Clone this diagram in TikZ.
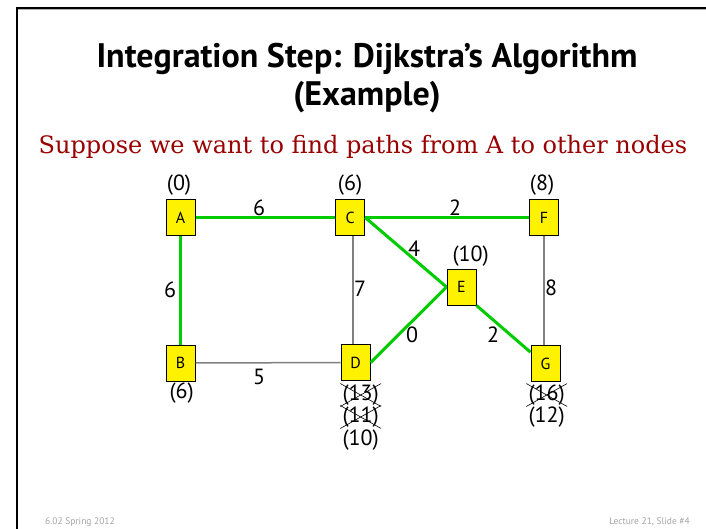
\documentclass[tikz,border=0pt]{standalone}
\usepackage{fontspec}
\setmainfont{PT Sans}
\newfontfamily\subfont{DejaVu Serif}
\usetikzlibrary{calc}
\definecolor{edgegreen}{RGB}{0,204,0}
\definecolor{edgegray}{RGB}{128,128,128}
\definecolor{darkred}{RGB}{153,0,0}
\definecolor{footgray}{RGB}{165,165,165}
\begin{document}
\begin{tikzpicture}[x=1pt,y=-1pt,
 vbox/.style={draw=black, line width=1pt, fill=yellow, minimum width=29pt, minimum height=36pt, inner sep=0pt, font=\fontsize{16}{16}\selectfont},
 dist/.style={font=\fontsize{22}{22}\selectfont, inner sep=0pt},
 wt/.style={font=\fontsize{22}{22}\selectfont, inner sep=0pt},
 tree/.style={draw=edgegreen, line width=3pt},
 plain/.style={draw=edgegray, line width=1.5pt},
 strike/.style={draw=black, line width=0.6pt},
 foot/.style={font=\fontsize{9.5}{10}\selectfont, text=footgray, inner sep=0pt}]
\useasboundingbox (0,0) rectangle (706,528);
\fill[white] (0,0) rectangle (706,528);
% frame
\draw[black, line width=2pt] (17,529) -- (17,8) -- (707,8);
\draw[gray!60, line width=0.8pt] (18,9.8) -- (707,9.8);
% title
\node[anchor=base, inner sep=0pt, font=\fontsize{34}{34}\selectfont\bfseries] (title1) at (367,67) {Integration Step: Dijkstra’s Algorithm};
\node[anchor=base, inner sep=0pt, font=\fontsize{34}{34}\selectfont\bfseries] (title2) at (367,105) {(Example)};
\node[anchor=base, inner sep=0pt, font=\subfont\fontsize{24}{24}\selectfont, text=darkred] (sub) at (363,153) {Suppose we want to find paths from A to other nodes};
% vertices
\node[vbox] (A) at (180.5,217.5) {A};
\node[vbox] (C) at (350.2,217.5) {C};
\node[vbox] (F) at (544,217.5) {F};
\node[vbox] (E) at (461.5,287) {E};
\node[vbox] (B) at (180.5,363) {B};
\node[vbox] (D) at (355.7,362.5) {D};
\node[vbox] (G) at (545.5,363.5) {G};
% edges
\coordinate (cdx) at (353,0);
\draw[plain] (C.south -| cdx) -- (D.north -| cdx);
\draw[plain] (B) -- (D);
\draw[plain] (F.south) -- (F.south |- G.north);
\draw[tree] (A) -- (C);
\draw[tree] (A) -- (B);
\draw[tree] (C) -- (F);
\draw[tree] (C.east) -- (E.west);
\draw[tree] (D.east) -- (E.west);
\draw[tree] (E.south east) -- (G.143);
% weights
\node[wt] (wAC) at (259,208) {6};
\node[wt] (wCF) at (455,208) {2};
\node[wt] (wCE) at (414,249) {4};
\node[wt] (wAB) at (170,290) {6};
\node[wt] (wCD) at (360,289) {7};
\node[wt] (wFG) at (551,288) {8};
\node[wt] (wDE) at (412,335) {0};
\node[wt] (wBD) at (259,377) {5};
\node[wt] (wEG) at (493,335) {2};
% distances
\node[dist] (dA) at (179,185) {(0)};
\node[dist] (dC) at (350,185) {(6)};
\node[dist] (dF) at (542,185) {(8)};
\node[dist] (dE) at (470.7,256) {(10)};
\node[dist] (dB) at (181.7,393) {(6)};
\node[dist] (dD1) at (360.7,395) {(13)};
\node[dist] (dD2) at (360.7,417) {(11)};
\node[dist] (dD3) at (360.7,440) {(10)};
\node[dist] (dG1) at (546.7,395) {(16)};
\node[dist] (dG2) at (546.7,417) {(12)};
% strike-outs
\draw[strike] ([shift={(-2,-1)}]dD1.north west) -- ([shift={(2,1)}]dD1.south east);
\draw[strike] ([shift={(-2,1)}]dD1.south west) -- ([shift={(2,-1)}]dD1.north east);
\draw[strike] ([shift={(-2,-1)}]dD2.north west) -- ([shift={(2,1)}]dD2.south east);
\draw[strike] ([shift={(-2,1)}]dD2.south west) -- ([shift={(2,-1)}]dD2.north east);
\draw[strike] ([shift={(-2,-1)}]dG1.north west) -- ([shift={(2,1)}]dG1.south east);
\draw[strike] ([shift={(-2,1)}]dG1.south west) -- ([shift={(2,-1)}]dG1.north east);
% footer
\node[foot, anchor=base west] (f1) at (45,524) {6.02 Spring 2012};
\node[foot, anchor=base east] (f2) at (690,524) {Lecture 21, Slide \#4};
\end{tikzpicture}
\end{document}
